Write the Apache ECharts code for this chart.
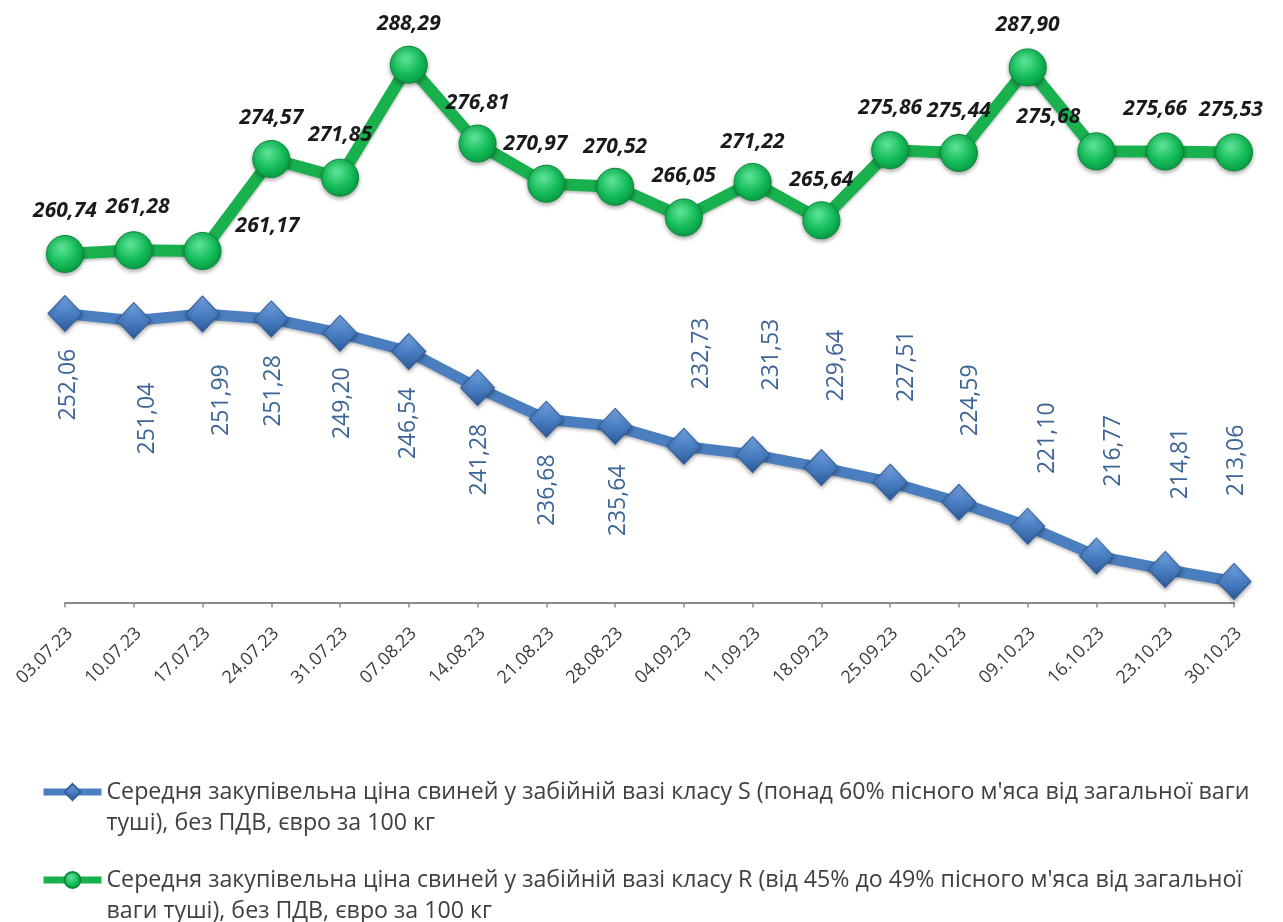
<!DOCTYPE html>
<html>
<head>
<meta charset="utf-8">
<script src="https://cdn.jsdelivr.net/npm/echarts@6/dist/echarts.min.js"></script>
<style>
  html, body { margin: 0; padding: 0; background: #ffffff; }
  #chart { width: 1283px; height: 922px; }
</style>
</head>
<body>
<div id="chart"></div>
<script>
// ---- data ----
const categories = ['03.07.23','10.07.23','17.07.23','24.07.23','31.07.23','07.08.23','14.08.23','21.08.23','28.08.23','04.09.23','11.09.23','18.09.23','25.09.23','02.10.23','09.10.23','16.10.23','23.10.23','30.10.23'];
const classS = [252.06, 251.04, 251.99, 251.28, 249.20, 246.54, 241.28, 236.68, 235.64, 232.73, 231.53, 229.64, 227.51, 224.59, 221.10, 216.77, 214.81, 213.06];
const classR = [260.74, 261.28, 261.17, 274.57, 271.85, 288.29, 276.81, 270.97, 270.52, 266.05, 271.22, 265.64, 275.86, 275.44, 287.90, 275.68, 275.66, 275.53];
const nameS = "Середня закупівельна ціна свиней у забійній вазі класу S (понад 60% пісного м'яса від загальної ваги туші), без ПДВ, євро за 100 кг";
const nameR = "Середня закупівельна ціна свиней у забійній вазі класу R (від 45% до 49% пісного м'яса від загальної ваги туші), без ПДВ, євро за 100 кг";
const legendBreakS = "ваги ";       // line break after this word
const legendBreakR = "загальної ";

// ---- label placement (screen-pixel offsets of label centre from the point) ----
const labelShiftS = [[3,71],[14,98],[19,86],[2,72],[2,70],[0,72],[2,72],[1,71],[3,74],[18,-93],[19,-100],[15,-102],[16,-116],[12,-102],[20,-88],[17,-105],[15,-106],[2,-121]];
const labelShiftR = [[0,-43],[4,-43],[65,-25],[0,-41],[0,-43],[0,-41],[0,-41],[-11,-40],[0,-40],[0,-41],[0,-40],[0,-40],[0,-42],[0,-42],[0,-42],[-48,-34],[-10,-42],[-3,-42]];

const fmt = v => v.toFixed(2).replace('.', ',');
const FONT = '"Open Sans", "Noto Sans", sans-serif';

function breakAt(name, word) {
  const i = name.indexOf(word);
  return name.slice(0, i + word.length - 1) + '\n' + name.slice(i + word.length);
}
// rotated (90deg) labels take their offset in the text's own frame
const rot90 = s => [-s[1], s[0]];

const chart = echarts.init(document.getElementById('chart'), null, { renderer: 'canvas' });

const blueFill = new echarts.graphic.LinearGradient(0, 0, 0, 1, [
  { offset: 0, color: '#7aa9e6' },
  { offset: 0.5, color: '#4a7fc4' },
  { offset: 1, color: '#2d5b98' }
]);
const greenFill = new echarts.graphic.RadialGradient(0.42, 0.35, 0.75, [
  { offset: 0, color: '#5fe39a' },
  { offset: 0.55, color: '#13bb57' },
  { offset: 1, color: '#05923f' }
]);

const legendCommon = {
  orient: 'vertical',
  left: 40,
  padding: 0,
  itemWidth: 58,
  itemHeight: 20,
  textStyle: {
    fontFamily: FONT,
    fontSize: 23.2,
    color: '#404040',
    lineHeight: 31
  }
};

chart.setOption({
  backgroundColor: '#ffffff',
  animation: false,
  textStyle: { fontFamily: FONT },
  grid: { left: 65, right: 49, top: 53, bottom: 319.5, containLabel: false },
  legend: [
    Object.assign({}, legendCommon, {
      top: 792 - 46.5,
      data: [nameS],
      lineStyle: { width: 7, color: '#4a7ebf' },
      formatter: n => ' \n' + breakAt(n, legendBreakS)
    }),
    Object.assign({}, legendCommon, {
      top: 880 - 46.5,
      data: [nameR],
      lineStyle: { width: 7, color: '#19b04e' },
      formatter: n => ' \n' + breakAt(n, legendBreakR)
    })
  ],
  xAxis: {
    type: 'category',
    data: categories,
    boundaryGap: false,
    axisLine: { lineStyle: { color: '#8a8a8a', width: 2 } },
    axisTick: { show: true, length: 5, lineStyle: { color: '#8a8a8a', width: 1.5 } },
    axisLabel: {
      rotate: 45,
      margin: 33,
      padding: [0, -7, 0, 0],
      interval: 0,
      fontFamily: FONT,
      fontSize: 18,
      color: '#3a3a3a'
    },
    splitLine: { show: false }
  },
  yAxis: {
    type: 'value',
    min: 210,
    max: 290,
    show: false,
    splitLine: { show: false }
  },
  series: [
    {
      name: nameS,
      type: 'line',
      symbol: 'diamond',
      symbolSize: [34, 36],
      data: classS.map((v, i) => ({
        value: v,
        label: { offset: rot90(labelShiftS[i]) }
      })),
      lineStyle: {
        width: 11, color: '#4a7ebf',
        shadowColor: 'rgba(0,0,0,0.25)', shadowBlur: 3, shadowOffsetY: 2
      },
      itemStyle: {
        color: blueFill, borderColor: '#2f5f9e', borderWidth: 1,
        shadowColor: 'rgba(0,0,0,0.35)', shadowBlur: 4, shadowOffsetY: 2
      },
      label: {
        show: true,
        position: 'inside',
        rotate: 90,
        fontFamily: FONT,
        fontSize: 23,
        color: '#3e6597',
        formatter: p => fmt(p.value)
      },
      z: 2
    },
    {
      name: nameR,
      type: 'line',
      symbol: 'circle',
      symbolSize: 37,
      data: classR.map((v, i) => ({
        value: v,
        label: { offset: labelShiftR[i] }
      })),
      lineStyle: {
        width: 12, color: '#19b04e',
        shadowColor: 'rgba(0,0,0,0.25)', shadowBlur: 3, shadowOffsetY: 2
      },
      itemStyle: {
        color: greenFill, borderColor: '#0a8a3a', borderWidth: 1,
        shadowColor: 'rgba(0,0,0,0.35)', shadowBlur: 4, shadowOffsetY: 2
      },
      label: {
        show: true,
        position: 'inside',
        fontFamily: FONT,
        fontSize: 21,
        fontWeight: 'bold',
        fontStyle: 'italic',
        color: '#1a1a1a',
        formatter: p => fmt(p.value)
      },
      z: 3
    }
  ]
});
</script>
</body>
</html>
